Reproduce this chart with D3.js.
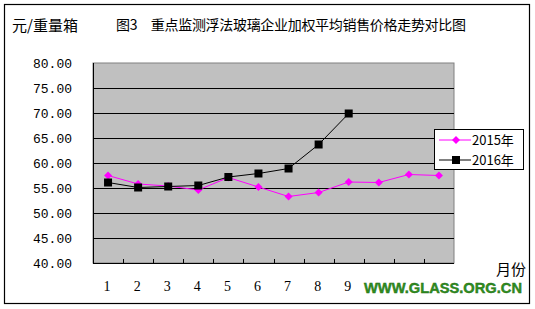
<!DOCTYPE html>
<html><head><meta charset="utf-8">
<script src="https://cdn.jsdelivr.net/npm/d3@7"></script>
<style>body{margin:0;background:#fff}svg{display:block}</style>
</head><body>
<script>
const months = ["1","2","3","4","5","6","7","8","9","10","11","12"];
// labels 10–12 are hidden under the watermark in the reference
const monthLabels = ["1","2","3","4","5","6","7","8","9"];
const yTicks = [40,45,50,55,60,65,70,75,80];
const s2015 = [57.5,55.8,55.4,54.6,57.1,55.2,53.3,54.1,56.2,56.1,57.7,57.5];
const s2016 = [56.1,55.1,55.3,55.5,57.2,57.9,58.9,63.7,69.9];
const seriesNames = ["2015年","2016年"];

const W=535,H=309;
const svg=d3.select("body").append("svg").attr("width",W).attr("height",H);
// chart border
svg.append("rect").attr("x",4.5).attr("y",4.5).attr("width",525).attr("height",299)
  .attr("fill","#fff").attr("stroke","#000").attr("stroke-width",1.2);

const L=93,R=454,T=63,B=263;
const x=d3.scaleBand().domain(months).range([L,R]);
const y=d3.scaleLinear().domain([40,80]).range([B,T]);

svg.append("rect").attr("x",L).attr("y",T).attr("width",R-L).attr("height",B-T)
  .attr("fill","#c0c0c0").attr("stroke","#808080").attr("stroke-width",1);
// gridlines
svg.append("g").selectAll("line").data(yTicks.filter(v=>v>40&&v<80)).join("line")
  .attr("x1",L).attr("x2",R).attr("y1",d=>Math.round(y(d))+0.5).attr("y2",d=>Math.round(y(d))+0.5)
  .attr("stroke","#000");
// axes lines
svg.append("line").attr("x1",L+0.5).attr("x2",L+0.5).attr("y1",T).attr("y2",B).attr("stroke","#000");
svg.append("line").attr("x1",L).attr("x2",R).attr("y1",B+0.5).attr("y2",B+0.5).attr("stroke","#000");
// x ticks (inward) at band boundaries
svg.append("g").selectAll("line").data(months.slice(1)).join("line")
  .attr("x1",d=>Math.round(x(d))+0.5).attr("x2",d=>Math.round(x(d))+0.5)
  .attr("y1",B-4).attr("y2",B).attr("stroke","#000");
// y labels
svg.append("g").selectAll("text").data(yTicks).join("text")
  .attr("x",72).attr("y",d=>y(d)+5).attr("text-anchor","end")
  .attr("font-family","Liberation Mono").attr("font-size",13).text(d=>d.toFixed(2));
// x labels
svg.append("g").selectAll("text").data(monthLabels).join("text")
  .attr("x",d=>x(d)+x.bandwidth()/2-1).attr("y",291).attr("text-anchor","middle")
  .attr("font-family","Liberation Serif").attr("font-size",14).text(d=>d);

const cx=i=>x(months[i])+x.bandwidth()/2;
const line=d3.line().x((d,i)=>cx(i)).y(d=>y(d));
// 2015
svg.append("path").datum(s2015).attr("d",line).attr("fill","none").attr("stroke","#ff00ff").attr("stroke-width",1);
svg.append("g").selectAll("path").data(s2015).join("path")
  .attr("transform",(d,i)=>`translate(${cx(i)},${y(d)})`)
  .attr("d","M0,-4L4,0L0,4L-4,0Z").attr("fill","#ff00ff");
// 2016
svg.append("path").datum(s2016).attr("d",line).attr("fill","none").attr("stroke","#000").attr("stroke-width",1);
svg.append("g").selectAll("rect").data(s2016).join("rect")
  .attr("x",(d,i)=>cx(i)-4).attr("y",d=>y(d)-4).attr("width",8).attr("height",8).attr("fill","#000");

// legend
const lg=svg.append("g");
lg.append("rect").attr("x",434.5).attr("y",129.5).attr("width",89).attr("height",40).attr("fill","#fff").attr("stroke","#000");
seriesNames.forEach((n,i)=>{
  const yy=140+i*20;
  lg.append("line").attr("x1",439).attr("x2",471).attr("y1",yy).attr("y2",yy).attr("stroke",i?"#000":"#ff00ff");
  if(i===0) lg.append("path").attr("transform",`translate(456,${yy})`).attr("d","M0,-4L4,0L0,4L-4,0Z").attr("fill","#ff00ff");
  else lg.append("rect").attr("x",452).attr("y",yy-4).attr("width",8).attr("height",8).attr("fill","#000");
  lg.append("text").attr("x",472).attr("y",yy+5).attr("font-family","Noto Sans CJK SC").attr("font-size",13).text(n);
});

// titles
svg.append("text").attr("x",12).attr("y",31).attr("font-family","Noto Sans CJK SC").attr("font-size",15).text("元/重量箱");
svg.append("text").attr("x",116).attr("y",30).attr("font-family","Noto Sans CJK SC").attr("font-size",14)
  .attr("textLength",350).text("图3　重点监测浮法玻璃企业加权平均销售价格走势对比图");
svg.append("text").attr("x",496).attr("y",275).attr("font-family","Noto Sans CJK SC").attr("font-size",15).text("月份");

// watermark
svg.append("text").attr("x",364).attr("y",293).attr("font-family","Liberation Sans").attr("font-weight","bold")
  .attr("font-size",14.5).attr("textLength",158).attr("lengthAdjust","spacingAndGlyphs")
  .attr("fill","#2f8f1f").attr("stroke","#1f6a12").attr("stroke-width",0.4).text("WWW.GLASS.ORG.CN");
</script>
</body></html>
